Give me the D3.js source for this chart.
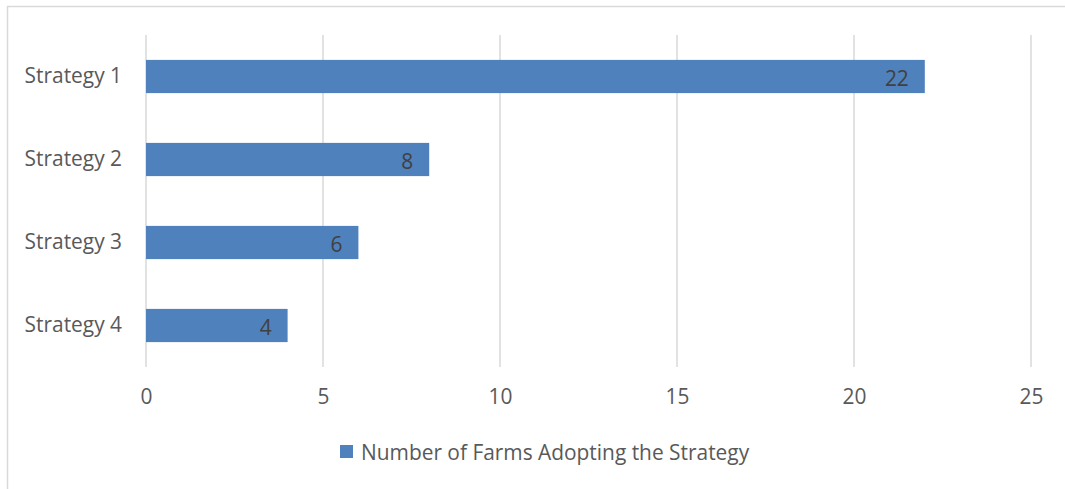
<!DOCTYPE html>
<html>
<head>
<meta charset="utf-8">
<script src="https://cdn.jsdelivr.net/npm/d3@7"></script>
<style>
  html, body { margin: 0; padding: 0; background: #fff; }
  svg { display: block; }
  text { font-family: "Open Sans", "Noto Sans", sans-serif; }
</style>
</head>
<body>
<svg id="chart" width="1065" height="489"></svg>
<script>
const categories = ["Strategy 1", "Strategy 2", "Strategy 3", "Strategy 4"];
const values = [22, 8, 6, 4];
const xTicks = [0, 5, 10, 15, 20, 25];
const seriesName = "Number of Farms Adopting the Strategy";

const svg = d3.select("#chart");
const W = 1065, H = 489;
const m = { left: 146, right: 34, top: 35, bottom: 122 };
const fs = 20.9;

// chart area frame
svg.append("rect")
  .attr("x", 7.5).attr("y", 6.5)
  .attr("width", W + 10).attr("height", H + 10)
  .attr("fill", "#fff").attr("stroke", "#d9d9d9").attr("stroke-width", 1.5);

const x = d3.scaleLinear().domain([0, 25]).range([m.left, W - m.right]);
const y = d3.scaleBand().domain(categories).range([m.top, H - m.bottom]).paddingInner(0.6).paddingOuter(0.3);

// vertical gridlines
svg.append("g").selectAll("line").data(xTicks).join("line")
  .attr("x1", d => x(d)).attr("x2", d => x(d))
  .attr("y1", m.top).attr("y2", H - m.bottom)
  .attr("stroke", "#d9d9d9").attr("stroke-width", 1.5);

// bars
svg.append("g").selectAll("rect").data(values).join("rect")
  .attr("x", x(0))
  .attr("y", (d, i) => y(categories[i]))
  .attr("width", d => x(d) - x(0))
  .attr("height", y.bandwidth())
  .attr("fill", "#4f81bd");

// value labels inside bar end
svg.append("g").selectAll("text").data(values).join("text")
  .attr("x", d => x(d) - 16)
  .attr("y", (d, i) => y(categories[i]) + y.bandwidth() / 2 + 1)
  .attr("text-anchor", "end").attr("dominant-baseline", "central")
  .attr("font-size", fs).attr("fill", "#404040")
  .text(d => d);

// category axis
const yAxis = d3.axisLeft(y).tickSize(0).tickPadding(24);
const gy = svg.append("g").attr("transform", `translate(${x(0)},0)`).call(yAxis);
gy.select(".domain").remove();
gy.selectAll("text").attr("font-size", fs).attr("fill", "#595959")
  .style("font-family", "'Open Sans', sans-serif");

// value axis
const xAxis = d3.axisBottom(x).tickValues(xTicks).tickSize(0).tickPadding(22);
const gx = svg.append("g").attr("transform", `translate(0,${H - m.bottom})`).call(xAxis);
gx.select(".domain").remove();
gx.selectAll("text").attr("font-size", fs).attr("fill", "#595959")
  .style("font-family", "'Open Sans', sans-serif");

// legend
const lg = svg.append("g").attr("transform", "translate(340,445)");
lg.append("rect").attr("width", 13).attr("height", 13).attr("fill", "#4f81bd");
lg.append("text").attr("x", 21).attr("y", 7)
  .attr("dominant-baseline", "central")
  .attr("font-size", fs).attr("fill", "#595959")
  .text(seriesName);
</script>
</body>
</html>
